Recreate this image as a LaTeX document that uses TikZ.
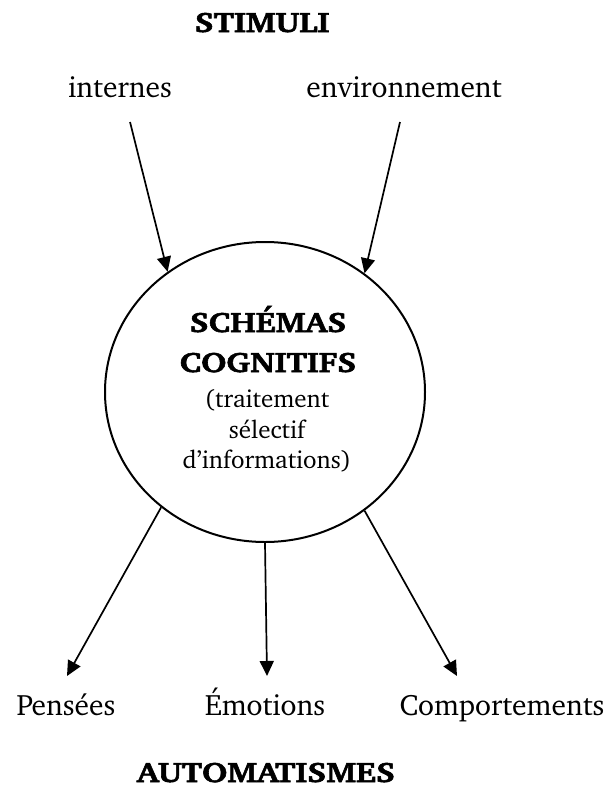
\documentclass[tikz,border=0pt]{standalone}
\usepackage[T1]{fontenc}
\usepackage{charter}
\usetikzlibrary{shapes.geometric,arrows.meta}
\newcommand{\wideb}[1]{\special{pdf:literal direct 2 Tr 0.5 w}\scalebox{1.2}[1]{\bfseries #1}\special{pdf:literal direct 0 Tr}}
\tikzset{
  big/.style={font=\fontsize{29.5}{31}\selectfont, anchor=base, inner sep=0pt},
  bigb/.style={font=\fontsize{28}{30}\selectfont, anchor=base, inner sep=0pt},
  small/.style={font=\fontsize{25}{27}\selectfont, anchor=base, inner sep=0pt},
  arr/.style={line width=1.7pt, -{Triangle[length=15pt,width=14pt]}},
  circ/.style={ellipse, draw, line width=2pt, minimum width=320pt, minimum height=300pt, inner sep=0pt}
}
\begin{document}
\begin{tikzpicture}[x=1pt,y=-1pt]
\useasboundingbox (0,0) rectangle (609,787);
\node[bigb] (stim) at (262,32) {\wideb{STIMULI}};
\node[big] (int) at (120,97) {internes};
\node[big] (env) at (404,97) {environnement};
\node[circ] (sch) at (265,392) {};
\node[bigb] (t1) at (268,332) {\wideb{SCH\'EMAS}};
\node[bigb] (t2) at (268,372) {\wideb{COGNITIFS}};
\node[small] (t3) at (267,407) {(traitement};
\node[small] (t4) at (267,438) {s\'electif};
\node[small] (t5) at (267,468) {d'informations)};
\node[big] (pen) at (66,715) {Pens\'ees};
\node[big] (emo) at (265,715) {\'Emotions};
\node[big] (com) at (502,715) {Comportements};
\node[bigb] (aut) at (266,782) {\wideb{AUTOMATISMES}};
\coordinate (sa) at (130,122);
\coordinate (sb) at (400,122);
\coordinate (ea) at (67,676);
\coordinate (eb) at (267,676);
\coordinate (ec) at (457,676);
\draw[arr] (sa) -- (sch.129.2);
\draw[arr] (sb) -- (sch.50.2);
\draw[arr] (sch.228.7) -- (ea);
\draw[arr] (sch.270) -- (eb);
\draw[arr] (sch.310.8) -- (ec);
\end{tikzpicture}
\end{document}
